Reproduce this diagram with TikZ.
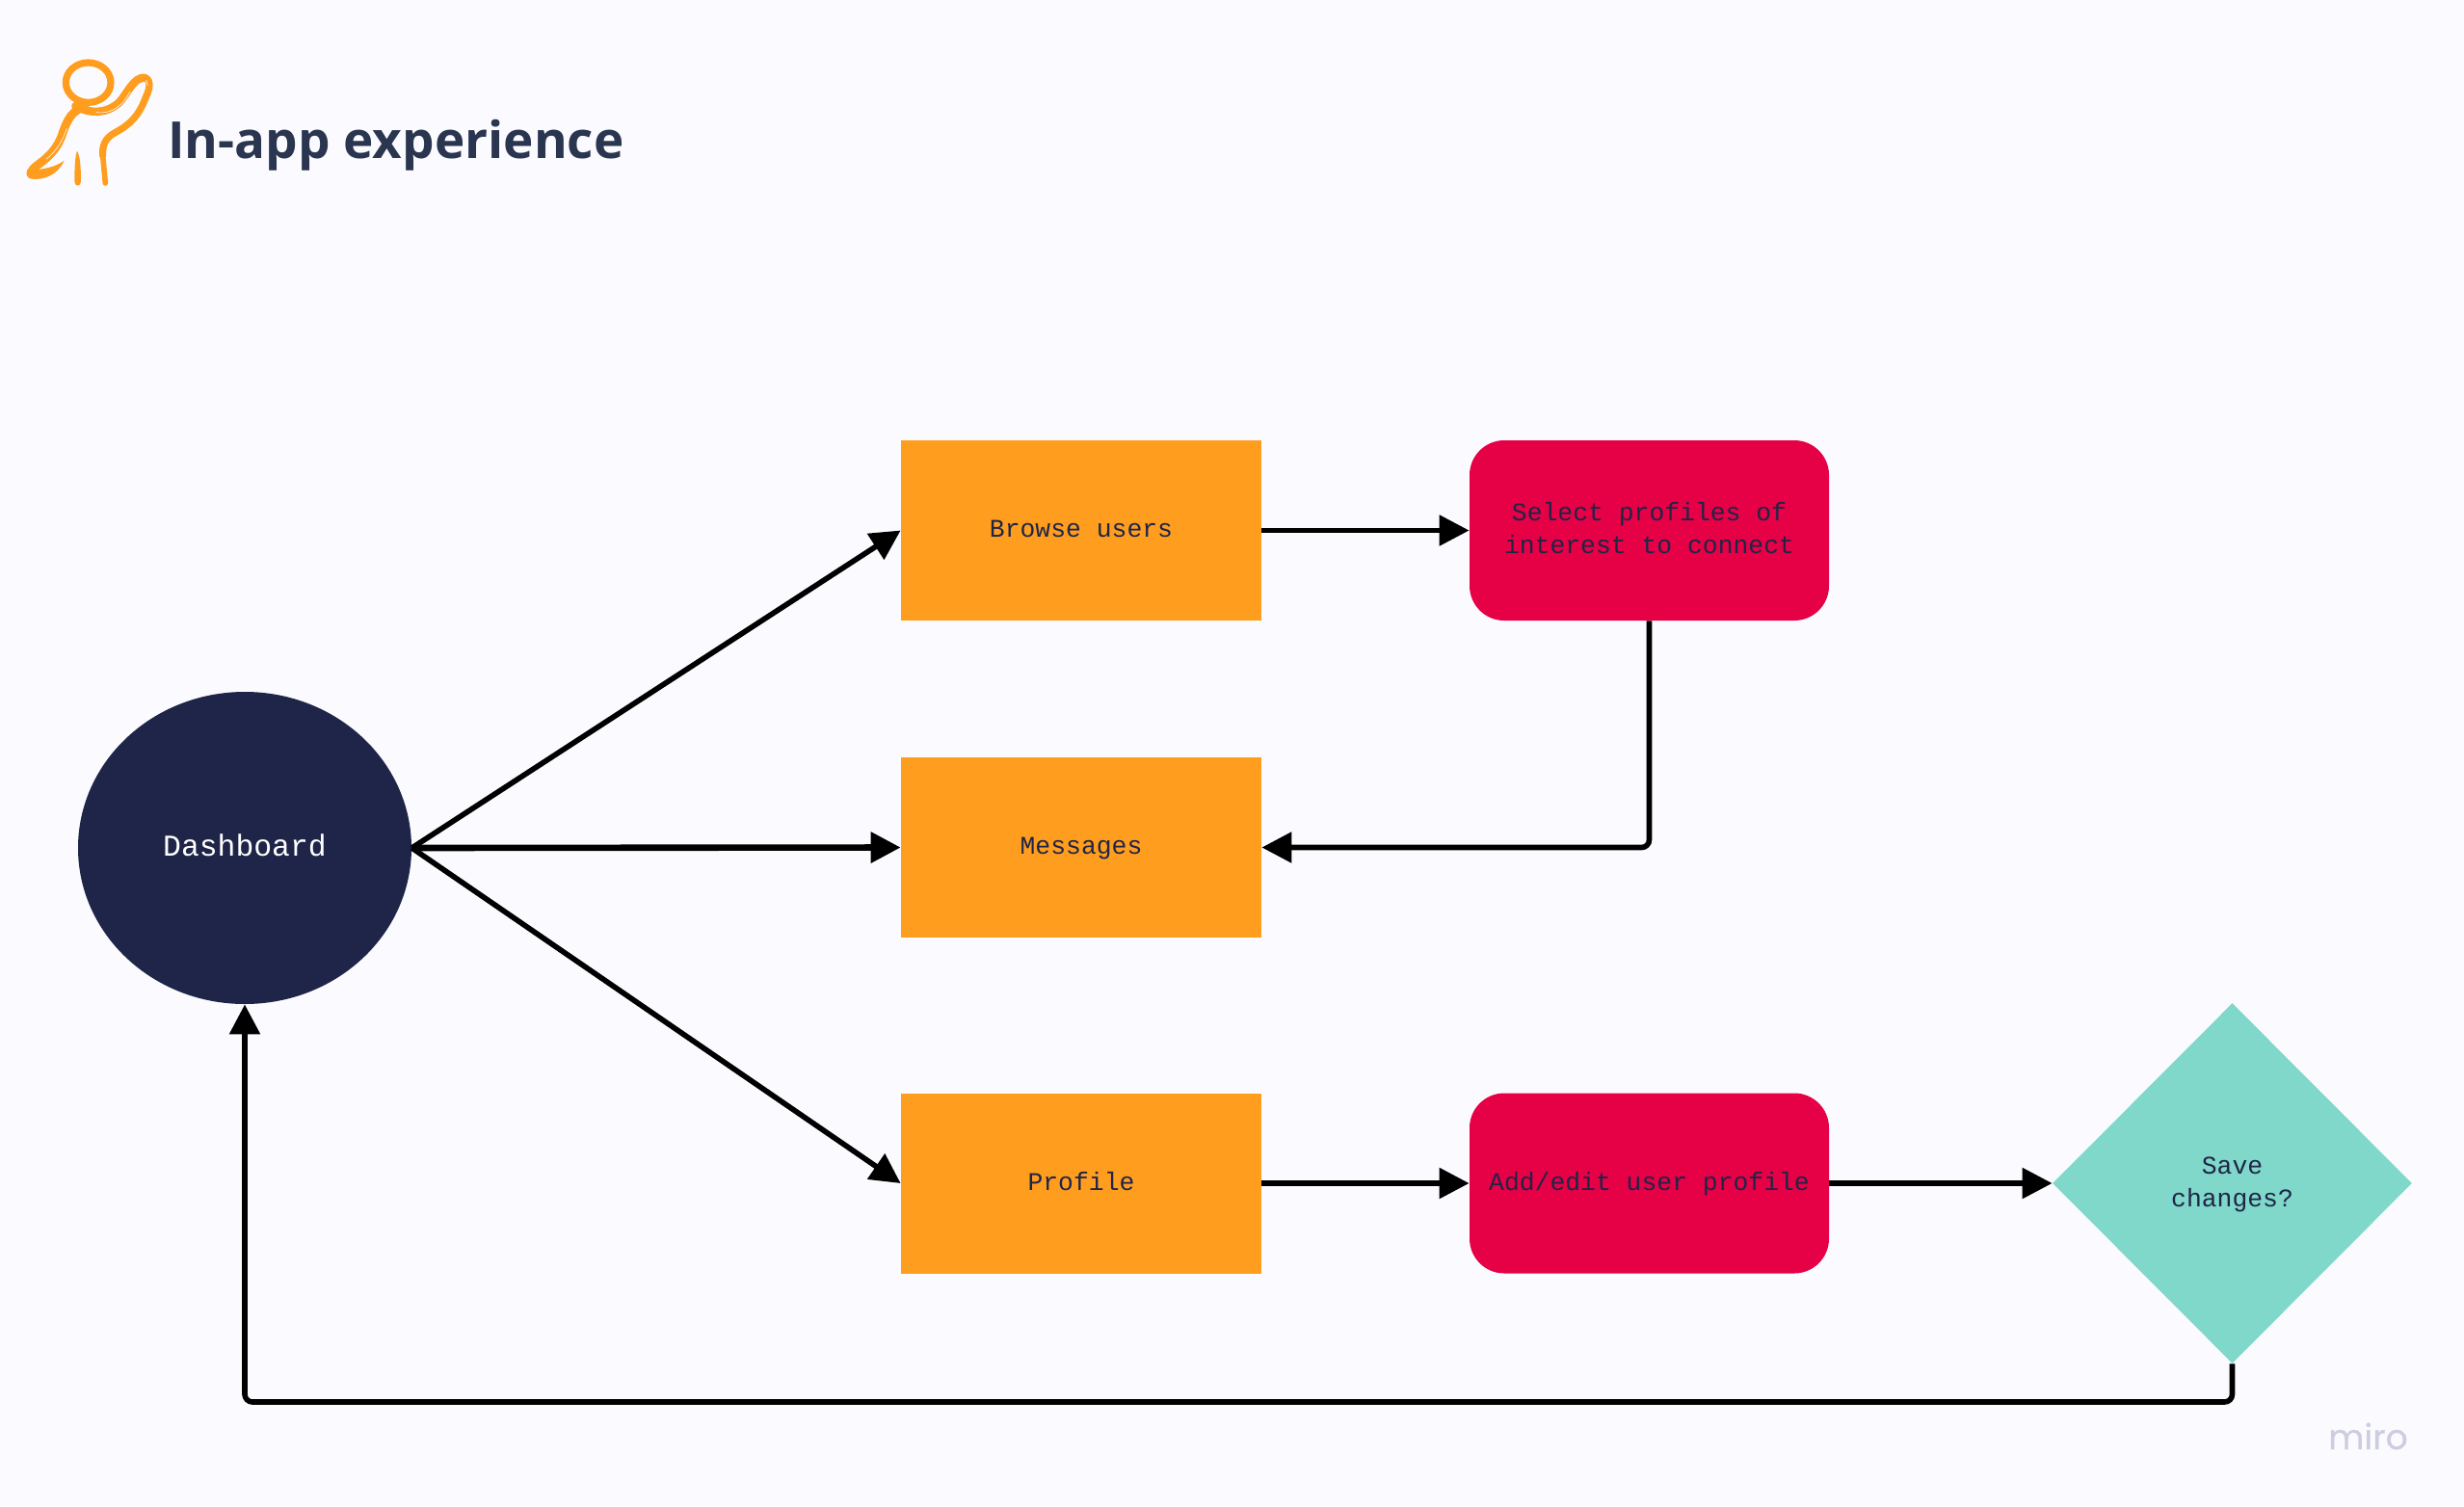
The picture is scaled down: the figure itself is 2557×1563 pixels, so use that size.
\documentclass[tikz,border=0pt]{standalone}
\usepackage{fontspec}
\setmainfont{Liberation Mono}
\newfontfamily\titlefont{Open Sans}
\newfontfamily\logofont[FakeBold=0.6]{Poppins}
\usetikzlibrary{arrows.meta,shapes.geometric}
\definecolor{bgc}{HTML}{FBFBFF}
\definecolor{orangec}{HTML}{FF9D1F}
\definecolor{redc}{HTML}{E60045}
\definecolor{tealc}{HTML}{7FD8C9}
\definecolor{navyc}{HTML}{1F2548}
\definecolor{titlec}{HTML}{2A3550}
\definecolor{logoc}{HTML}{CDCDE0}
\newcommand{\lblstrut}{\rule{0pt}{0.78em}\rule[-0.22em]{0pt}{0.22em}}
\newcommand{\dashstrut}{\rule{0pt}{0.78em}\rule[-0.22em]{0pt}{0.22em}}
\tikzset{
  lbl/.style={text=navyc,font=\fontsize{13.2}{17}\selectfont,align=center,inner sep=0pt},
  rectbox/.style={lbl,rectangle,fill=orangec,minimum width=187pt,minimum height=93.5pt},
  roundbox/.style={lbl,rectangle,rounded corners=18pt,fill=redc,minimum width=186.5pt,minimum height=93.5pt},
  decisionbox/.style={lbl,diamond,aspect=1,fill=tealc,minimum width=186.5pt,minimum height=187pt,inner sep=0pt},
  startnode/.style={ellipse,fill=navyc,text=white,font=\fontsize{15.7}{18}\selectfont,minimum width=173pt,minimum height=162pt,inner sep=0pt},
  flow/.style={draw=black,line width=2.8pt,-{Triangle[length=15.5pt,width=15.5pt]},rounded corners=4pt},
  iconstroke/.style={draw=orangec,line cap=round,line join=round},
}
\begin{document}
\begin{tikzpicture}[x=0.5pt,y=-0.5pt]
\useasboundingbox (0,0) rectangle (2557,1563);
\fill[bgc] (0,0) rectangle (2557,1563);

% icon
\begin{scope}[xshift=5pt,yshift=-25pt,x=0.5pt/3,y=-0.5pt/3]
\draw[iconstroke,line width=3.6pt] (245,107) ellipse [x radius=70,y radius=62];
\draw[iconstroke,line width=4.4pt] (235,180) .. controls (195,195) and (180,220) .. (165,265)
   .. controls (150,310) and (125,335) .. (95,358) .. controls (75,372) and (65,382) .. (68,392);
\fill[orangec] (68,407) .. controls (105,412) and (150,395) .. (170,350)
   .. controls (150,365) and (120,375) .. (85,378) -- (55,378) .. controls (48,395) and (56,405) .. (68,407) -- cycle;
\draw[iconstroke,line width=4.2pt] (205,180) .. controls (250,205) and (300,205) .. (340,170)
   .. controls (365,145) and (385,90) .. (420,92);
\draw[iconstroke,line width=3.6pt] (420,92) .. controls (440,95) and (438,125) .. (425,150)
   .. controls (405,205) and (380,235) .. (330,262) .. controls (295,280) and (288,305) .. (290,335);
\draw[iconstroke,line width=2.8pt] (290,335) -- (298,420);
\fill[orangec] (210,320) .. controls (218,335) and (222,360) .. (222,415)
   .. controls (222,432) and (202,432) .. (202,415) .. controls (202,370) and (204,335) .. (210,320) -- cycle;
\draw[bgc,line width=0.3pt,line cap=round] (178,250) .. controls (165,290) and (145,320) .. (115,345);
\draw[bgc,line width=0.3pt,line cap=round] (270,200) .. controls (310,205) and (345,190) .. (375,135);
\draw[bgc,line width=0.3pt,line cap=round] (425,100) -- (430,115);
\end{scope}

\node[font=\titlefont\bfseries\fontsize{26.5}{30}\selectfont,text=titlec,anchor=base west,inner sep=0pt] (title) at (174,164) {In-app experience};
\node[font=\logofont\fontsize{18}{20}\selectfont,text=logoc,anchor=base,inner sep=0pt] (logo) at (2457.5,1504) {miro};

\node[startnode] (dash) at (254,880) {\dashstrut Dashboard};
\node[rectbox] (browse) at (1122,550.5) {\lblstrut Browse users};
\node[rectbox] (msg) at (1122,879.5) {\lblstrut Messages};
\node[rectbox] (profile) at (1122,1228) {\lblstrut Profile};
\node[roundbox] (select) at (1711.5,550.5) {\lblstrut Select profiles of\\\lblstrut interest to connect};
\node[roundbox] (edit) at (1711.5,1228) {\lblstrut Add/edit user profile};
\node[decisionbox] (save) at (2316.5,1228) {\lblstrut Save\\\lblstrut changes?};

\draw[flow] (dash.east) -- (browse.west);
\draw[flow,line width=3.3pt] (dash.east) -- (msg.west);
\draw[flow] (dash.east) -- (profile.west);
\draw[flow] (browse.east) -- (select.west);
\draw[flow] (select.south) |- (msg.east);
\draw[flow] (profile.east) -- (edit.west);
\draw[flow] (edit.east) -- (save.west);
\coordinate (turnR) at (2316.5,1455);
\coordinate (turnL) at (254,1455);
\draw[flow] (save.south) -- (turnR) -- (turnL) -- (dash.south);
\end{tikzpicture}
\end{document}
